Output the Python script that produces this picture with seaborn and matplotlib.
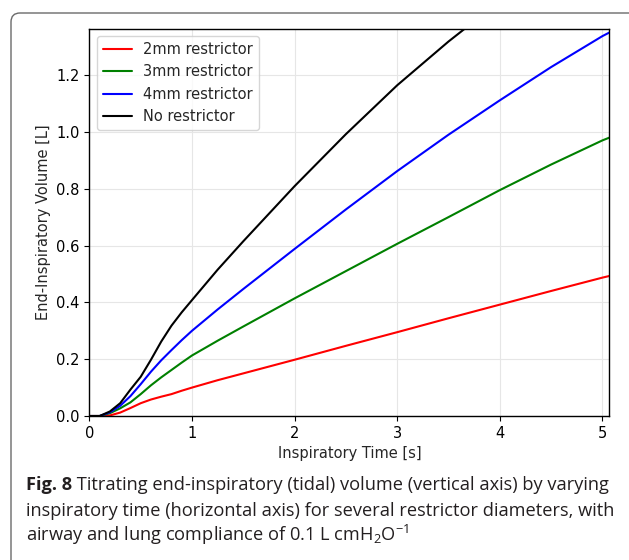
import matplotlib
matplotlib.use("Agg")
import matplotlib.pyplot as plt
import matplotlib.transforms as mtransforms
from matplotlib.patches import FancyBboxPatch
import pandas as pd
import seaborn as sns

# Inspiratory time grid [s] and end-inspiratory volumes [L]
time_s = [0.0, 0.1, 0.2, 0.3, 0.4, 0.5, 0.6, 0.7, 0.8, 0.9, 1.0, 1.25, 1.5,
          2.0, 2.5, 3.0, 3.5, 4.0, 4.5, 5.0, 5.07]
vol_2mm = [0.0, 0.0, 0.002, 0.012, 0.028, 0.045, 0.058, 0.068, 0.077, 0.089, 0.100,
           0.126, 0.150, 0.198, 0.247, 0.295, 0.344, 0.392, 0.440, 0.487, 0.493]
vol_3mm = [0.0, 0.0, 0.010, 0.027, 0.048, 0.077, 0.108, 0.136, 0.162, 0.188, 0.213,
           0.265, 0.315, 0.414, 0.510, 0.606, 0.700, 0.795, 0.885, 0.970, 0.980]
vol_4mm = [0.0, 0.0, 0.013, 0.036, 0.070, 0.112, 0.156, 0.196, 0.232, 0.267, 0.300,
           0.375, 0.447, 0.588, 0.727, 0.862, 0.990, 1.111, 1.228, 1.337, 1.350]
time_none = [0.0, 0.1, 0.2, 0.3, 0.4, 0.5, 0.6, 0.7, 0.8, 0.9, 1.0, 1.25, 1.5,
             2.0, 2.5, 3.0, 3.5, 4.0]
vol_none = [0.0, 0.0, 0.016, 0.045, 0.093, 0.138, 0.198, 0.262, 0.318, 0.365, 0.408,
            0.515, 0.615, 0.809, 0.992, 1.164, 1.318, 1.460]

series_names = ["2mm restrictor", "3mm restrictor", "4mm restrictor", "No restrictor"]
series_colors = ["red", "green", "blue", "black"]
x_ticks = [0, 1, 2, 3, 4, 5]
y_ticks = [0.0, 0.2, 0.4, 0.6, 0.8, 1.0, 1.2]

frames = []
for name, t, v in zip(series_names,
                      [time_s, time_s, time_s, time_none],
                      [vol_2mm, vol_3mm, vol_4mm, vol_none]):
    frames.append(pd.DataFrame({"time": t, "volume": v, "series": name}))
data = pd.concat(frames, ignore_index=True)

sns.set_style("ticks", {
    "axes.grid": True,
    "grid.color": "#e6e6e6",
    "axes.edgecolor": "black",
    "xtick.color": "black",
    "ytick.color": "black",
})
plt.rcParams.update({
    "font.family": ["DejaVu Sans"],
    "font.size": 10.5,
    "axes.linewidth": 1.0,
    "grid.linewidth": 0.8,
    "xtick.major.size": 3.5,
    "ytick.major.size": 3.5,
    "mathtext.fontset": "custom",
    "mathtext.rm": "Open Sans",
    "mathtext.it": "Open Sans:italic",
    "mathtext.bf": "Open Sans:bold",
})

W, H = 629, 560
fig = plt.figure(figsize=(W / 100, H / 100), dpi=100)
ax = fig.add_axes([89.4 / W, 1 - 416 / H, (609.3 - 89.4) / W, (416 - 29) / H])

sns.lineplot(data=data, x="time", y="volume", hue="series",
             hue_order=series_names,
             palette=dict(zip(series_names, series_colors)),
             estimator=None, sort=False, linewidth=1.5, ax=ax)

ax.set_xlim(0, 5.067)
ax.set_ylim(0, 1.362)
ax.set_xticks(x_ticks)
ax.set_yticks(y_ticks)
ax.set_yticklabels([f"{v:.1f}" for v in y_ticks])
ax.tick_params(labelsize=10.5)
ax.set_xlabel("Inspiratory Time [s]", fontsize=10.5)
ax.set_ylabel("End-Inspiratory Volume [L]", fontsize=10.5)
for s in ax.spines.values():
    s.set_visible(True)
    s.set_color("black")

handles, labels = ax.get_legend_handles_labels()
ax.legend(handles, labels, loc="upper left", fontsize=10.5,
          frameon=True, fancybox=True, framealpha=0.8, edgecolor="0.8")

# Rounded panel frame running off the right and bottom edges
frame = FancyBboxPatch((11, -40), 700, (H - 13) + 40,
                       boxstyle="round,pad=0,rounding_size=9",
                       transform=mtransforms.IdentityTransform(),
                       facecolor="none", edgecolor="#6a6a6a", linewidth=1.0)
fig.patches.append(frame)

# Caption
cap_color = "#231f20"
cap_font = ["Open Sans", "DejaVu Sans"]
x0 = 26 / W
base_y = [(H - 490) / H, (H - 516) / H, (H - 541) / H]
lines_rest = [
    " Titrating end-inspiratory (tidal) volume (vertical axis) by varying",
    "inspiratory time (horizontal axis) for several restrictor diameters, with",
    r"airway and lung compliance of 0.1 L cmH$_2$O$^{-1}$",
]

size0 = 12
bold = fig.text(x0, base_y[0], "Fig. 8", fontsize=size0, fontweight="bold",
                family=cap_font, color=cap_color, va="baseline")
rest = [fig.text(x0, by, s, fontsize=size0, family=cap_font, color=cap_color,
                 va="baseline") for by, s in zip(base_y, lines_rest)]

# Scale the caption so its first two lines span the panel width
fig.canvas.draw()
r = fig.canvas.get_renderer()
w_line1 = bold.get_window_extent(r).width + rest[0].get_window_extent(r).width
w_line2 = rest[1].get_window_extent(r).width
size = size0 * ((588 + 577) / (w_line1 + w_line2))
bold.set_fontsize(size)
for t in rest:
    t.set_fontsize(size)
fig.canvas.draw()
wb = bold.get_window_extent(r).width
rest[0].set_x(x0 + wb / W)

fig.savefig("out.png", dpi=100)
